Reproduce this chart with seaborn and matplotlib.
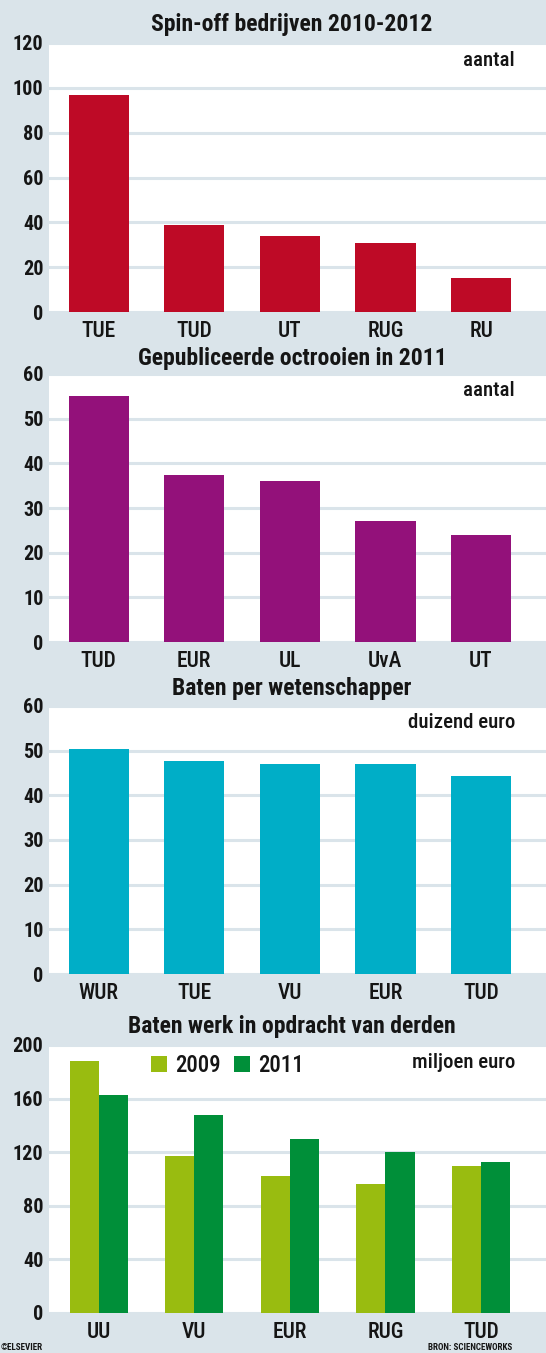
import matplotlib
matplotlib.use('Agg')
import matplotlib.pyplot as plt
import seaborn as sns
import pandas as pd

# --- data ---
spinoff_labels = ["TUE", "TUD", "UT", "RUG", "RU"]
spinoff_values = [97, 39, 34, 31, 15]

octrooi_labels = ["TUD", "EUR", "UL", "UvA", "UT"]
octrooi_values = [55, 37.3, 36, 27.2, 24]

baten_labels = ["WUR", "TUE", "VU", "EUR", "TUD"]
baten_values = [50.4, 47.6, 47.1, 47.1, 44.3]

derden_labels = ["UU", "VU", "EUR", "RUG", "TUD"]
derden_2009 = [188, 117, 102, 96, 110]
derden_2011 = [163, 148, 130, 120, 113]
years = ["2009", "2011"]

BG = "#dae4ea"
INK = "#151515"

sns.set_theme(style="white")
plt.rcParams.update({
    "figure.facecolor": BG,
    "axes.facecolor": "white",
    "text.color": INK,
    "xtick.color": INK,
    "ytick.color": INK,
})
plt.rcParams['font.family'] = ['Roboto Condensed', 'Liberation Sans Narrow', 'Roboto', 'DejaVu Sans']

fig = plt.figure(figsize=(5.46, 13.53), dpi=100)

W, H = 546, 1353
def axes_at(top, bottom):
    return fig.add_axes([49 / W, 1 - bottom / H, 497 / W, (bottom - top) / H])

def style_axes(ax, ymax, step, unit, title, title_y):
    ax.set_ylim(0, ymax)
    ax.set_xlim(-0.52, 4.68)
    ax.set_yticks(range(0, ymax + 1, step))
    ax.set_xlabel("")
    ax.set_ylabel("")
    for s in ax.spines.values():
        s.set_visible(False)
    ax.grid(axis="y", color=BG, linewidth=2.2)
    ax.set_axisbelow(True)
    ax.tick_params(axis="both", length=0)
    ax.tick_params(axis="y", pad=4, labelsize=14.5)
    ax.tick_params(axis="x", pad=6, labelsize=15.5)
    for lab in ax.get_yticklabels():
        lab.set_fontweight("bold")
    for lab in ax.get_xticklabels():
        lab.set_fontweight("medium")
    ax.text(515 / 497 - 49 / 497, 1 - 17 / 268, unit, transform=ax.transAxes,
            ha="right", va="center", fontsize=15, fontweight="medium")
    fig.text(292 / W, 1 - title_y / H, title, ha="center", va="center",
             fontsize=17, fontweight="bold")

# panel 1
ax1 = axes_at(43, 312)
sns.barplot(x=spinoff_labels, y=spinoff_values, color="#be0a26", saturation=1,
            width=0.63, linewidth=0, ax=ax1)
style_axes(ax1, 120, 20, "aantal", "Spin-off bedrijven 2010-2012", 25)

# panel 2
ax2 = axes_at(374, 642)
sns.barplot(x=octrooi_labels, y=octrooi_values, color="#93117a", saturation=1,
            width=0.63, linewidth=0, ax=ax2)
style_axes(ax2, 60, 10, "aantal", "Gepubliceerde octrooien in 2011", 358)

# panel 3
ax3 = axes_at(706, 974)
sns.barplot(x=baten_labels, y=baten_values, color="#00aec7", saturation=1,
            width=0.63, linewidth=0, ax=ax3)
style_axes(ax3, 60, 10, "duizend euro", "Baten per wetenschapper", 688)

# panel 4
ax4 = axes_at(1045, 1313)
df = pd.DataFrame({
    "uni": derden_labels * 2,
    "jaar": [years[0]] * 5 + [years[1]] * 5,
    "waarde": derden_2009 + derden_2011,
})
sns.barplot(data=df, x="uni", y="waarde", hue="jaar", palette=["#99bc10", "#008f39"],
            saturation=1, width=0.61, linewidth=0, ax=ax4)
style_axes(ax4, 200, 40, "miljoen euro", "Baten werk in opdracht van derden", 1027)
handles, labels = ax4.get_legend_handles_labels()
leg = ax4.legend(handles, labels, loc="center left", bbox_to_anchor=(0.183, 0.925),
                 ncol=2, frameon=False, handlelength=0.7, handleheight=0.7,
                 handletextpad=0.35, columnspacing=0.55, borderpad=0,
                 prop={"size": 16.5, "weight": "medium"})

# footer
fig.text(0.002, 1 - 1347 / H, "©ELSEVIER", ha="left", va="center",
         fontsize=6.5, fontweight="bold")
fig.text(428 / W, 1 - 1347 / H, "BRON: SCIENCEWORKS", ha="left", va="center",
         fontsize=6.5, fontweight="bold")

fig.savefig("out.png", dpi=100, facecolor=BG)
